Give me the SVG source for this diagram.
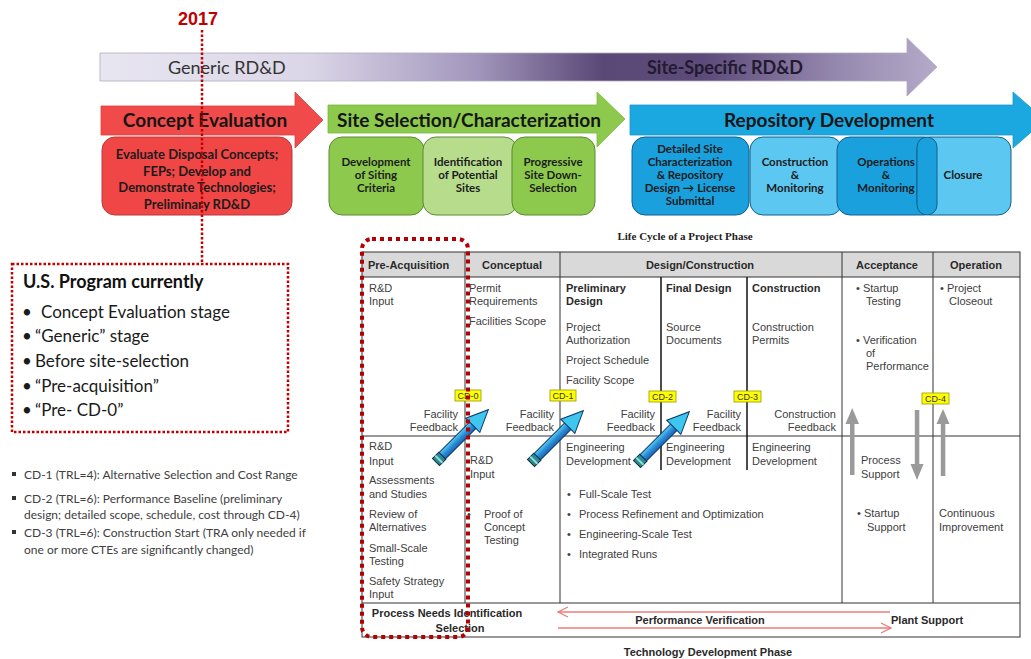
<svg xmlns="http://www.w3.org/2000/svg" width="1031" height="659" viewBox="0 0 1031 659">
<defs>
<linearGradient id="purple" x1="100" y1="0" x2="937" y2="0" gradientUnits="userSpaceOnUse">
<stop offset="0" stop-color="#e8e6f1"/>
<stop offset="0.25" stop-color="#dbd6e7"/>
<stop offset="0.45" stop-color="#a296bc"/>
<stop offset="0.6" stop-color="#5a4876"/>
<stop offset="0.72" stop-color="#5c4a79"/>
<stop offset="0.88" stop-color="#9588ae"/>
<stop offset="1" stop-color="#b5aac9"/>
</linearGradient>
<linearGradient id="penShaft" x1="0" y1="-5" x2="0" y2="5" gradientUnits="userSpaceOnUse">
<stop offset="0" stop-color="#5fd4f4"/>
<stop offset="0.5" stop-color="#2b8ed8"/>
<stop offset="1" stop-color="#1a5fb0"/>
</linearGradient>
<g id="pen">
<rect x="0" y="-5" width="9" height="10" fill="#2f8a8e" stroke="#0e2f44" stroke-width="1"/>
<rect x="3" y="-5" width="2" height="10" fill="#8fe0e0"/>
<rect x="9" y="-4.5" width="45" height="9" fill="url(#penShaft)" stroke="#0b3a6a" stroke-width="1"/>
<polygon points="52,-4.5 52,-10 74,0 52,10 52,4.5" fill="#3ec6ee" stroke="#0b3a6a" stroke-width="1"/>
</g>
</defs>
<style>
.cal{font-family:Lato,"Open Sans","Liberation Sans",sans-serif}
.ar{font-family:"Liberation Sans",Arial,sans-serif}
.bx{font-size:11.5px;font-weight:bold;fill:#1c1c1c;text-anchor:middle}
.bxl{font-size:13px;font-weight:bold;fill:#1c1c1c;text-anchor:middle}
.big{font-size:19px;font-weight:bold;fill:#151515;text-anchor:middle}
.t{font-size:11px;fill:#404040}
.tb{font-size:11px;font-weight:bold;fill:#2a2a2a}
.hd{font-size:11px;font-weight:bold;fill:#2a2a2a;text-anchor:middle}
.r{text-anchor:end}
.cd{fill:#ffff00;stroke:#9a9a00;stroke-width:0.8}
.cdt{font-size:9px;fill:#333;text-anchor:middle}
.ln{stroke:#333;stroke-width:1;fill:none}
.gr{fill:#9a9a9a}
.pk{stroke:#ec7a7a;stroke-width:1.3;fill:none}
.us{font-size:17px;fill:#1a1a1a}
.cdl{font-size:12px;fill:#404040}
</style>

<g id="generic-arrow">
<path d="M100,53 H907 V38 L937,67 L907,96 V81 H100 Z" fill="url(#purple)" stroke="#b0aac0" stroke-width="0.8"/>
<text x="168" y="74" class="cal" font-size="18" fill="#333">Generic RD&amp;D</text>
<text x="725" y="74" class="cal" font-size="18" font-weight="bold" fill="#221a30" text-anchor="middle">Site-Specific RD&amp;D</text>
</g>

<g id="concept-evaluation">
<path d="M101,106 H295 V92 L323,120 L295,148 V135 H101 Z" fill="#f04a4a" stroke="#e04040" stroke-width="0.8"/>
<text x="205" y="127" class="cal big">Concept Evaluation</text>
<rect x="102" y="137" width="190" height="78" rx="13" fill="#f04646" stroke="#b83a3a" stroke-width="1"/>
<text class="cal bxl"><tspan x="197" y="159">Evaluate Disposal Concepts;</tspan><tspan x="197" y="175.5">FEPs; Develop and</tspan><tspan x="197" y="192">Demonstrate Technologies;</tspan><tspan x="197" y="208.5">Preliminary RD&amp;D</tspan></text>
</g>

<g id="site-selection">
<path d="M328,105 H597 V92 L625,119 L597,147 V133 H328 Z" fill="#8dc94c" stroke="#7ab83e" stroke-width="0.8"/>
<text x="469" y="127" class="cal big">Site Selection/Characterization</text>
<rect x="329" y="137" width="95" height="78" rx="13" fill="#8dc94c" stroke="#5d8a30" stroke-width="1"/>
<rect x="423" y="137" width="94" height="78" rx="13" fill="#b6dc8c" stroke="#5d8a30" stroke-width="1"/>
<rect x="512" y="137" width="83" height="78" rx="13" fill="#8dc94c" stroke="#5d8a30" stroke-width="1"/>
<text class="cal bx"><tspan x="376" y="166">Development</tspan><tspan x="376" y="179">of Siting</tspan><tspan x="376" y="192">Criteria</tspan></text>
<text class="cal bx"><tspan x="468" y="166">Identification</tspan><tspan x="468" y="179">of Potential</tspan><tspan x="468" y="192">Sites</tspan></text>
<text class="cal bx"><tspan x="553" y="166">Progressive</tspan><tspan x="553" y="179">Site Down-</tspan><tspan x="553" y="192">Selection</tspan></text>
</g>

<g id="repository-development">
<path d="M630,105 H1013 V92 L1045,120 L1013,148 V135 H630 Z" fill="#1ba8e0" stroke="#1898cc" stroke-width="0.8"/>
<text x="829" y="127" class="cal big">Repository Development</text>
<rect x="632" y="137" width="117" height="78" rx="13" fill="#1aa0dc" stroke="#10608e" stroke-width="1"/>
<rect x="750" y="137" width="92" height="78" rx="13" fill="#5cc7f0" stroke="#10608e" stroke-width="1"/>
<rect x="837" y="137" width="100" height="78" rx="13" fill="#1aa0dc" stroke="#10608e" stroke-width="1"/>
<rect x="917" y="137" width="94" height="78" rx="13" fill="#5cc7f0" stroke="#10608e" stroke-width="1"/>
<rect x="917" y="137" width="20" height="78" rx="10" fill="#1aa0dc" stroke="#10608e" stroke-width="1"/>
<text class="cal bx"><tspan x="690" y="153">Detailed Site</tspan><tspan x="690" y="166">Characterization</tspan><tspan x="690" y="179">&amp; Repository</tspan><tspan x="690" y="192">Design → License</tspan><tspan x="690" y="205">Submittal</tspan></text>
<text class="cal bx"><tspan x="795" y="166">Construction</tspan><tspan x="795" y="179">&amp;</tspan><tspan x="795" y="192">Monitoring</tspan></text>
<text class="cal bx"><tspan x="886" y="166">Operations</tspan><tspan x="886" y="179">&amp;</tspan><tspan x="886" y="192">Monitoring</tspan></text>
<text class="cal bx"><tspan x="963" y="179">Closure</tspan></text>
</g>

<g id="year-2017">
<text x="198" y="25" class="ar" font-size="18" font-weight="bold" fill="#c00000" text-anchor="middle">2017</text>
<line x1="202" y1="30" x2="202" y2="263" stroke="#c00000" stroke-width="2.5" stroke-dasharray="2.5 2"/>
</g>

<g id="us-program">
<rect x="12" y="264" width="276" height="168" fill="#fff" stroke="#c00000" stroke-width="2.5" stroke-dasharray="2.5 2"/>
<text x="23" y="288" class="cal" font-size="18" font-weight="bold" fill="#111">U.S. Program currently</text>
<text class="cal us"><tspan x="22" y="318">•</tspan><tspan x="41" y="318">Concept Evaluation stage</tspan></text>
<text class="cal us"><tspan x="22" y="342">•</tspan><tspan x="35" y="342">“Generic” stage</tspan></text>
<text class="cal us"><tspan x="22" y="367">•</tspan><tspan x="35" y="367">Before site-selection</tspan></text>
<text class="cal us"><tspan x="22" y="392">•</tspan><tspan x="35" y="392">“Pre-acquisition”</tspan></text>
<text class="cal us"><tspan x="22" y="416">•</tspan><tspan x="35" y="416">“Pre- CD-0”</tspan></text>
</g>

<g id="cd-notes">
<rect x="12" y="472" width="4" height="4" fill="#333"/>
<text x="24" y="479" class="cal cdl">CD-1 (TRL=4):  Alternative Selection and Cost Range</text>
<rect x="12" y="496" width="4" height="4" fill="#333"/>
<text x="24" y="503" class="cal cdl">CD-2 (TRL=6):   Performance Baseline (preliminary</text>
<text x="24" y="519" class="cal cdl">design; detailed scope, schedule, cost through CD-4)</text>
<rect x="12" y="530" width="4" height="4" fill="#333"/>
<text x="24" y="537" class="cal cdl">CD-3 (TRL=6):  Construction Start  (TRA only needed if</text>
<text x="24" y="554" class="cal cdl">one or more CTEs are significantly changed)</text>
</g>

<g id="lifecycle-table">
<text x="685" y="240" font-family="'Liberation Serif','Times New Roman',serif" font-size="11" font-weight="bold" fill="#222" text-anchor="middle">Life Cycle of a Project Phase</text>
<rect x="362" y="252" width="658" height="25" fill="#d9d9d9"/>
<rect x="362" y="252" width="658" height="385" class="ln"/>
<line x1="362" y1="277" x2="1020" y2="277" class="ln"/>
<line x1="362" y1="436" x2="1020" y2="436" class="ln"/>
<line x1="362" y1="603" x2="1020" y2="603" class="ln"/>
<line x1="465" y1="252" x2="465" y2="603" class="ln"/>
<line x1="560" y1="252" x2="560" y2="603" class="ln"/>
<line x1="842" y1="252" x2="842" y2="603" class="ln"/>
<line x1="933" y1="252" x2="933" y2="603" class="ln"/>
<line x1="661" y1="277" x2="661" y2="470" stroke="#111" stroke-width="1.5"/>
<line x1="747" y1="277" x2="747" y2="470" stroke="#111" stroke-width="1.5"/>

<g class="ar">
<text x="368" y="269" class="tb">Pre-Acquisition</text>
<text x="512" y="269" class="hd">Conceptual</text>
<text x="700" y="269" class="hd">Design/Construction</text>
<text x="887" y="269" class="hd">Acceptance</text>
<text x="976" y="269" class="hd">Operation</text>

<text class="t"><tspan x="369" y="292">R&amp;D</tspan><tspan x="369" y="305">Input</tspan></text>
<text class="t r"><tspan x="458" y="418">Facility</tspan><tspan x="458" y="431">Feedback</tspan></text>

<text class="t"><tspan x="469" y="292">Permit</tspan><tspan x="469" y="305">Requirements</tspan><tspan x="469" y="325">Facilities Scope</tspan></text>
<text class="t r"><tspan x="554" y="418">Facility</tspan><tspan x="554" y="431">Feedback</tspan></text>

<text class="tb"><tspan x="566" y="292">Preliminary</tspan><tspan x="566" y="305">Design</tspan></text>
<text class="t"><tspan x="566" y="331">Project</tspan><tspan x="566" y="344">Authorization</tspan><tspan x="566" y="364">Project Schedule</tspan><tspan x="566" y="384">Facility Scope</tspan></text>
<text class="t r"><tspan x="655" y="418">Facility</tspan><tspan x="655" y="431">Feedback</tspan></text>

<text x="666" y="292" class="tb">Final Design</text>
<text class="t"><tspan x="666" y="331">Source</tspan><tspan x="666" y="344">Documents</tspan></text>
<text class="t r"><tspan x="741" y="418">Facility</tspan><tspan x="741" y="431">Feedback</tspan></text>

<text x="752" y="292" class="tb">Construction</text>
<text class="t"><tspan x="752" y="331">Construction</tspan><tspan x="752" y="344">Permits</tspan></text>
<text class="t r"><tspan x="836" y="418">Construction</tspan><tspan x="836" y="431">Feedback</tspan></text>

<text class="t"><tspan x="856" y="292">• Startup</tspan><tspan x="866" y="305">Testing</tspan><tspan x="856" y="344">• Verification</tspan><tspan x="866" y="357">of</tspan><tspan x="866" y="370">Performance</tspan></text>
<text class="t"><tspan x="940" y="292">• Project</tspan><tspan x="949" y="305">Closeout</tspan></text>

<text class="t"><tspan x="369" y="450">R&amp;D</tspan><tspan x="369" y="465">Input</tspan><tspan x="369" y="484">Assessments</tspan><tspan x="369" y="498">and Studies</tspan><tspan x="369" y="518">Review of</tspan><tspan x="369" y="531">Alternatives</tspan><tspan x="369" y="552">Small-Scale</tspan><tspan x="369" y="565">Testing</tspan><tspan x="369" y="585">Safety Strategy</tspan><tspan x="369" y="598">Input</tspan></text>
<text class="t"><tspan x="470" y="464">R&amp;D</tspan><tspan x="470" y="478">Input</tspan></text>
<text class="t"><tspan x="467" y="518">•</tspan><tspan x="484" y="518">Proof of</tspan><tspan x="484" y="531">Concept</tspan><tspan x="484" y="544">Testing</tspan></text>

<text class="t"><tspan x="566" y="451">Engineering</tspan><tspan x="566" y="465">Development</tspan></text>
<text class="t"><tspan x="666" y="451">Engineering</tspan><tspan x="666" y="465">Development</tspan></text>
<text class="t"><tspan x="752" y="451">Engineering</tspan><tspan x="752" y="465">Development</tspan></text>
<text class="t"><tspan x="567" y="498">•</tspan><tspan x="579" y="498">Full-Scale Test</tspan></text>
<text class="t"><tspan x="567" y="518">•</tspan><tspan x="579" y="518">Process Refinement and Optimization</tspan></text>
<text class="t"><tspan x="567" y="538">•</tspan><tspan x="579" y="538">Engineering-Scale Test</tspan></text>
<text class="t"><tspan x="567" y="558">•</tspan><tspan x="579" y="558">Integrated Runs</tspan></text>

<text class="t"><tspan x="861" y="464">Process</tspan><tspan x="861" y="478">Support</tspan><tspan x="857" y="517">• Startup</tspan><tspan x="867" y="531">Support</tspan></text>
<text class="t"><tspan x="939" y="517">Continuous</tspan><tspan x="939" y="531">Improvement</tspan></text>

<text x="447" y="617" class="hd">Process Needs Identification</text>
<text x="460" y="632" class="hd">Selection</text>
<text x="700" y="624" class="hd">Performance Verification</text>
<text x="891" y="624" class="tb">Plant Support</text>
<text x="708" y="656" class="hd">Technology Development Phase</text>
</g>
</g>

<g id="connectors">
<use href="#pen" transform="translate(436,462) rotate(-45)"/>
<use href="#pen" transform="translate(531,463) rotate(-45)"/>
<use href="#pen" transform="translate(637,464) rotate(-45)"/>
<rect x="850" y="422" width="4.5" height="53" class="gr"/>
<polygon points="845.5,424 852.2,408 859,424" class="gr"/>
<rect x="914.8" y="410" width="4.5" height="55" class="gr"/>
<polygon points="910.5,464 917,480 923.5,464" class="gr"/>
<rect x="940.8" y="422" width="4.5" height="54" class="gr"/>
<polygon points="936.5,424 943,409 949.5,424" class="gr"/>
<line x1="558" y1="612" x2="890" y2="612" class="pk"/>
<polyline points="568,607 558,612 568,617" class="pk"/>
<line x1="558" y1="628" x2="891" y2="628" class="pk"/>
<polyline points="881,623 891,628 881,633" class="pk"/>
</g>

<g id="cd-milestones" class="ar">
<rect x="455" y="390" width="26" height="11" class="cd"/><text x="468" y="399" class="cdt">CD-0</text>
<rect x="550" y="390" width="26" height="11" class="cd"/><text x="563" y="399" class="cdt">CD-1</text>
<rect x="649" y="391" width="27" height="11" class="cd"/><text x="662.5" y="400" class="cdt">CD-2</text>
<rect x="734" y="391" width="27" height="11" class="cd"/><text x="747.5" y="400" class="cdt">CD-3</text>
<rect x="922" y="393" width="27" height="11" class="cd"/><text x="935.5" y="402" class="cdt">CD-4</text>
</g>

<g id="pre-acquisition-highlight">
<rect x="362" y="239" width="106" height="398" rx="10" fill="none" stroke="#b40000" stroke-width="4" stroke-dasharray="4 4"/>
</g>
</svg>
